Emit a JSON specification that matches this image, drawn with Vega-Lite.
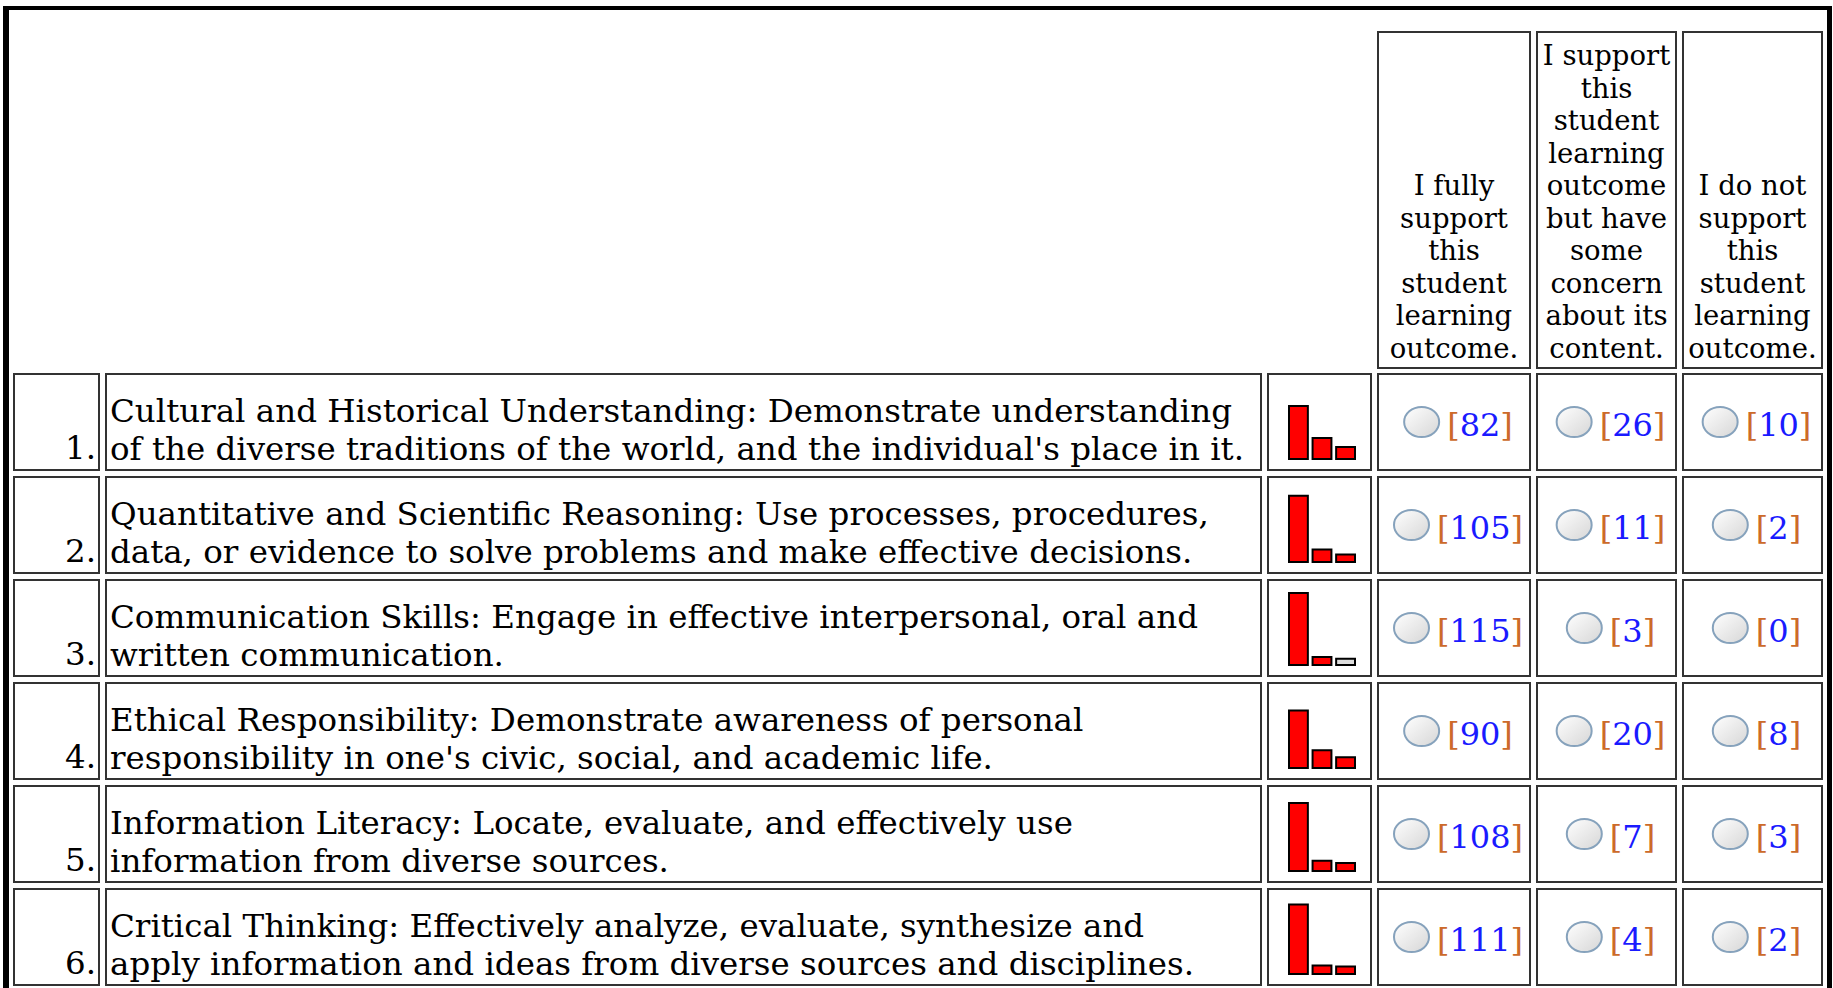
{
  "$schema": "https://vega.github.io/schema/vega-lite/v6.json",
  "padding": {"left": 3, "top": 6, "right": 0, "bottom": 0},
  "background": "white",
  "datasets": {
    "items": [
      {"n": 1, "desc": ["Cultural and Historical Understanding: Demonstrate understanding", "of the diverse traditions of the world, and the individual's place in it."], "full": 82, "some": 26, "none": 10},
      {"n": 2, "desc": ["Quantitative and Scientific Reasoning: Use processes, procedures,", "data, or evidence to solve problems and make effective decisions."], "full": 105, "some": 11, "none": 2},
      {"n": 3, "desc": ["Communication Skills: Engage in effective interpersonal, oral and", "written communication."], "full": 115, "some": 3, "none": 0},
      {"n": 4, "desc": ["Ethical Responsibility: Demonstrate awareness of personal", "responsibility in one's civic, social, and academic life."], "full": 90, "some": 20, "none": 8},
      {"n": 5, "desc": ["Information Literacy: Locate, evaluate, and effectively use", "information from diverse sources."], "full": 108, "some": 7, "none": 3},
      {"n": 6, "desc": ["Critical Thinking: Effectively analyze, evaluate, synthesize and", "apply information and ideas from diverse sources and disciplines."], "full": 111, "some": 4, "none": 2}
    ],
    "headers": [
      {"col": "full", "lines": ["I fully", "support", "this", "student", "learning", "outcome."]},
      {"col": "some", "lines": ["I support", "this", "student", "learning", "outcome", "but have", "some", "concern", "about its", "content."]},
      {"col": "none", "lines": ["I do not", "support", "this", "student", "learning", "outcome."]}
    ],
    "frame": [{"part": "edge"}]
  },
  "config": {
    "view": {"stroke": "#333333", "strokeWidth": 2},
    "text": {"font": "DejaVu Serif", "color": "#000000"}
  },
  "spacing": 0,
  "vconcat": [
    {"width": 1829, "height": 4, "data": {"name": "frame"},
      "mark": {"type": "rect", "fill": "#000000", "strokeWidth": 0},
      "encoding": {"x": {"value": 0}, "x2": {"value": "width"}, "y": {"value": 0}, "y2": {"value": "height"}},
      "view": {"stroke": null}},
    {
      "spacing": 4,
      "hconcat": [
        {"width": 6, "height": 978, "data": {"name": "frame"},
          "mark": {"type": "rect", "fill": "#000000", "strokeWidth": 0},
          "encoding": {"x": {"value": 0}, "x2": {"value": "width"}, "y": {"value": 0}, "y2": {"value": "height"}},
          "view": {"stroke": null}},
        {
          "bounds": "flush",
          "spacing": 21,
          "vconcat": [
            {"width": 1808, "height": 1, "data": {"values": []}, "mark": "rect", "encoding": {}, "view": {"stroke": null}},
            {
              "columns": 6,
              "align": "each",
              "bounds": "flush",
              "spacing": {"row": 6, "column": 7},
              "concat": [
                {"width": 85, "height": 336, "data": {"values": []}, "mark": "rect", "encoding": {}, "view": {"stroke": null}},
                {"width": 1155, "height": 336, "data": {"values": []}, "mark": "rect", "encoding": {}, "view": {"stroke": null}},
                {"width": 103, "height": 336, "data": {"values": []}, "mark": "rect", "encoding": {}, "view": {"stroke": null}},
                {"width": 152, "height": 336, "data": {"name": "headers"}, "transform": [{"filter": "datum.col === 'full'"}],
                  "mark": {"type": "text", "align": "center", "baseline": "alphabetic", "fontSize": 27.5, "lineHeight": 32.5, "dy": 163},
                  "encoding": {"y": {"value": 0}, "text": {"field": "lines", "type": "nominal"}}},
                {"width": 139, "height": 336, "data": {"name": "headers"}, "transform": [{"filter": "datum.col === 'some'"}],
                  "mark": {"type": "text", "align": "center", "baseline": "alphabetic", "fontSize": 27.5, "lineHeight": 32.5, "dy": 33},
                  "encoding": {"y": {"value": 0}, "text": {"field": "lines", "type": "nominal"}}},
                {"width": 139, "height": 336, "data": {"name": "headers"}, "transform": [{"filter": "datum.col === 'none'"}],
                  "mark": {"type": "text", "align": "center", "baseline": "alphabetic", "fontSize": 27.5, "lineHeight": 32.5, "dy": 163},
                  "encoding": {"y": {"value": 0}, "text": {"field": "lines", "type": "nominal"}}},
                {
                  "data": {"name": "items"},
                  "transform": [{"calculate": "datum.n + '.'", "as": "num"}],
                  "facet": {"row": {"field": "n", "type": "ordinal", "header": null}},
                  "spacing": {"row": 7},
                  "bounds": "flush",
                  "spec": {
                    "width": 85, "height": 96,
                    "mark": {"type": "text", "align": "right", "baseline": "alphabetic", "fontSize": 32.5, "dx": -3, "dy": 85},
                    "encoding": {"x": {"value": "width"}, "y": {"value": 0}, "text": {"field": "num", "type": "nominal"}}
                  }
                },
                {
                  "data": {"name": "items"},
                  "facet": {"row": {"field": "n", "type": "ordinal", "header": null}},
                  "spacing": {"row": 7},
                  "bounds": "flush",
                  "spec": {
                    "width": 1155, "height": 96,
                    "mark": {"type": "text", "align": "left", "baseline": "alphabetic", "fontSize": 32.5, "lineHeight": 37.6, "dx": 4, "dy": 48},
                    "encoding": {"x": {"value": 0}, "y": {"value": 0}, "text": {"field": "desc", "type": "nominal"}}
                  }
                },
                {
                  "data": {"name": "items"},
                  "transform": [{"fold": ["full", "some", "none"], "as": ["opt", "count"]}],
                  "facet": {"row": {"field": "n", "type": "ordinal", "header": null}},
                  "spacing": {"row": 7},
                  "bounds": "flush",
                  "spec": {
                    "width": 103, "height": 96,
                    "mark": {"type": "bar", "stroke": "#000000", "strokeWidth": 2},
                    "encoding": {
                      "x": {"field": "opt", "type": "nominal", "sort": ["full", "some", "none"], "scale": {"range": [21, 87], "paddingInner": 0.2, "paddingOuter": 0}, "axis": null},
                      "y": {"field": "count", "type": "quantitative", "scale": {"domain": [-11, 138], "range": [85, 0]}, "axis": null},
                      "y2": {"datum": -11},
                      "fill": {"condition": {"test": "datum.count > 0", "value": "#ff0000"}, "value": "#dddddd"}
                    }
                  }
                },
                {
                  "data": {"name": "items"},
                  "transform": [
                    {"calculate": "toString(datum.full)", "as": "num"},
                    {"calculate": "length(datum.num)", "as": "nd"}
                  ],
                  "facet": {"row": {"field": "n", "type": "ordinal", "header": null}},
                  "spacing": {"row": 7},
                  "bounds": "flush",
                  "spec": {
                    "width": 152, "height": 96,
                    "resolve": {"scale": {"x": "independent"}},
                    "layer": [
                      {"mark": {"type": "point", "shape": "M-1,0A1,0.86,0,1,1,1,0A1,0.86,0,1,1,-1,0Z", "size": 1225, "filled": true, "opacity": 1,
                        "fill": {"gradient": "linear", "x1": 0, "y1": 0, "x2": 1, "y2": 1, "stops": [{"offset": 0, "color": "#ffffff"}, {"offset": 1, "color": "#d6d6d6"}]},
                        "stroke": "#86a2bc", "strokeWidth": 2},
                        "encoding": {"x": {"field": "nd", "type": "quantitative", "scale": {"domain": [1, 3], "range": [53.8, 33.5]}, "axis": null}}},
                      {"mark": {"type": "text", "text": "[", "fontSize": 32, "fill": "#cc6a2a", "dy": 3.5, "baseline": "middle", "align": "right"},
                        "encoding": {"x": {"field": "nd", "type": "quantitative", "scale": {"domain": [1, 3], "range": [91.8, 71.5]}, "axis": null}}},
                      {"mark": {"type": "text", "fontSize": 32, "fill": "#1a1aff", "dx": 26, "dy": 3.5, "baseline": "middle", "align": "center"},
                        "encoding": {"text": {"field": "num", "type": "nominal"}}},
                      {"mark": {"type": "text", "text": "]", "fontSize": 32, "fill": "#cc6a2a", "dy": 3.5, "baseline": "middle", "align": "left"},
                        "encoding": {"x": {"field": "nd", "type": "quantitative", "scale": {"domain": [1, 3], "range": [112.2, 132.5]}, "axis": null}}}
                    ]
                  }
                },
                {
                  "data": {"name": "items"},
                  "transform": [
                    {"calculate": "toString(datum.some)", "as": "num"},
                    {"calculate": "length(datum.num)", "as": "nd"}
                  ],
                  "facet": {"row": {"field": "n", "type": "ordinal", "header": null}},
                  "spacing": {"row": 7},
                  "bounds": "flush",
                  "spec": {
                    "width": 139, "height": 96,
                    "resolve": {"scale": {"x": "independent"}},
                    "layer": [
                      {"mark": {"type": "point", "shape": "M-1,0A1,0.86,0,1,1,1,0A1,0.86,0,1,1,-1,0Z", "size": 1225, "filled": true, "opacity": 1,
                        "fill": {"gradient": "linear", "x1": 0, "y1": 0, "x2": 1, "y2": 1, "stops": [{"offset": 0, "color": "#ffffff"}, {"offset": 1, "color": "#d6d6d6"}]},
                        "stroke": "#86a2bc", "strokeWidth": 2},
                        "encoding": {"x": {"field": "nd", "type": "quantitative", "scale": {"domain": [1, 3], "range": [47.3, 27]}, "axis": null}}},
                      {"mark": {"type": "text", "text": "[", "fontSize": 32, "fill": "#cc6a2a", "dy": 3.5, "baseline": "middle", "align": "right"},
                        "encoding": {"x": {"field": "nd", "type": "quantitative", "scale": {"domain": [1, 3], "range": [85.3, 65.0]}, "axis": null}}},
                      {"mark": {"type": "text", "fontSize": 32, "fill": "#1a1aff", "dx": 26, "dy": 3.5, "baseline": "middle", "align": "center"},
                        "encoding": {"text": {"field": "num", "type": "nominal"}}},
                      {"mark": {"type": "text", "text": "]", "fontSize": 32, "fill": "#cc6a2a", "dy": 3.5, "baseline": "middle", "align": "left"},
                        "encoding": {"x": {"field": "nd", "type": "quantitative", "scale": {"domain": [1, 3], "range": [105.7, 126.0]}, "axis": null}}}
                    ]
                  }
                },
                {
                  "data": {"name": "items"},
                  "transform": [
                    {"calculate": "toString(datum.none)", "as": "num"},
                    {"calculate": "length(datum.num)", "as": "nd"}
                  ],
                  "facet": {"row": {"field": "n", "type": "ordinal", "header": null}},
                  "spacing": {"row": 7},
                  "bounds": "flush",
                  "spec": {
                    "width": 139, "height": 96,
                    "resolve": {"scale": {"x": "independent"}},
                    "layer": [
                      {"mark": {"type": "point", "shape": "M-1,0A1,0.86,0,1,1,1,0A1,0.86,0,1,1,-1,0Z", "size": 1225, "filled": true, "opacity": 1,
                        "fill": {"gradient": "linear", "x1": 0, "y1": 0, "x2": 1, "y2": 1, "stops": [{"offset": 0, "color": "#ffffff"}, {"offset": 1, "color": "#d6d6d6"}]},
                        "stroke": "#86a2bc", "strokeWidth": 2},
                        "encoding": {"x": {"field": "nd", "type": "quantitative", "scale": {"domain": [1, 3], "range": [47.3, 27]}, "axis": null}}},
                      {"mark": {"type": "text", "text": "[", "fontSize": 32, "fill": "#cc6a2a", "dy": 3.5, "baseline": "middle", "align": "right"},
                        "encoding": {"x": {"field": "nd", "type": "quantitative", "scale": {"domain": [1, 3], "range": [85.3, 65.0]}, "axis": null}}},
                      {"mark": {"type": "text", "fontSize": 32, "fill": "#1a1aff", "dx": 26, "dy": 3.5, "baseline": "middle", "align": "center"},
                        "encoding": {"text": {"field": "num", "type": "nominal"}}},
                      {"mark": {"type": "text", "text": "]", "fontSize": 32, "fill": "#cc6a2a", "dy": 3.5, "baseline": "middle", "align": "left"},
                        "encoding": {"x": {"field": "nd", "type": "quantitative", "scale": {"domain": [1, 3], "range": [105.7, 126.0]}, "axis": null}}}
                    ]
                  }
                }
              ]
            }
          ]
        },
        {"width": 5, "height": 978, "data": {"name": "frame"},
          "mark": {"type": "rect", "fill": "#000000", "strokeWidth": 0},
          "encoding": {"x": {"value": 0}, "x2": {"value": "width"}, "y": {"value": 0}, "y2": {"value": "height"}},
          "view": {"stroke": null}}
      ]
    }
  ]
}
